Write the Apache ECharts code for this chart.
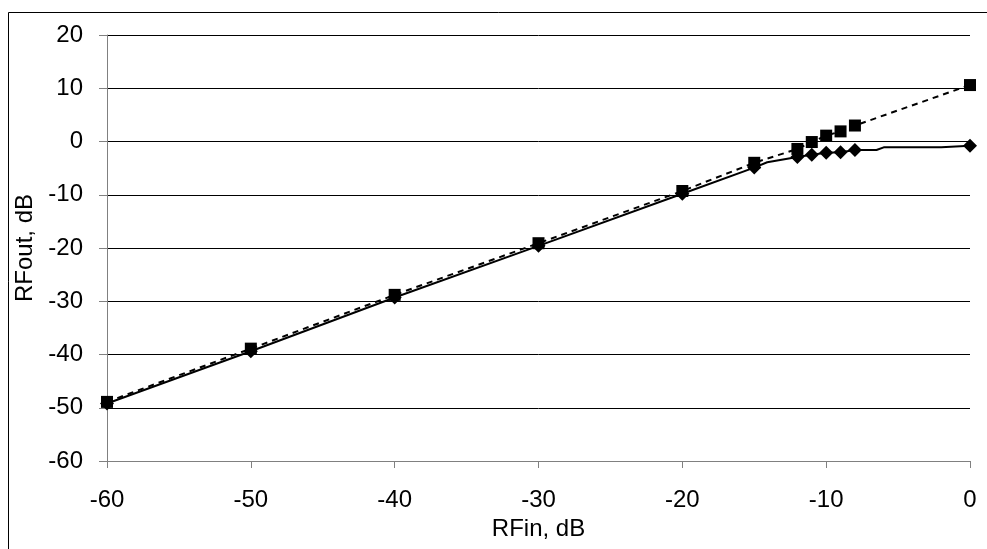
<!DOCTYPE html>
<html>
<head>
<meta charset="utf-8">
<script src="https://cdn.jsdelivr.net/npm/echarts@6/dist/echarts.min.js"></script>
<style>
  html, body { margin: 0; padding: 0; background: #fff; }
  #main { width: 987px; height: 549px; }
</style>
</head>
<body>
<div id="main"></div>
<script>
// ideal (linear) response, square markers, dashed line
var linX = [-60, -50, -40, -30, -20, -15, -12, -11, -10, -9, -8, 0];
var linY = [-48.9, -38.9, -28.8, -19.1, -9.3, -4.0, -1.4, -0.1, 1.1, 1.9, 3.0, 10.6];

// measured response, diamond markers
var measX = [-60, -50, -40, -30, -20, -15, -12, -11, -10, -9, -8, 0];
var measY = [-49.2, -39.4, -29.3, -19.6, -9.8, -4.9, -2.9, -2.5, -2.1, -2.0, -1.6, -0.8];

// measured curve, solid line (includes points without markers)
var curveX = [-60, -50, -40, -30, -20, -15, -14.1, -12, -11, -10, -9, -8, -6.5, -6, -2, 0];
var curveY = [-49.2, -39.4, -29.3, -19.6, -9.8, -4.9, -3.9, -2.9, -2.5, -2.1, -2.0, -1.6, -1.6, -1.1, -1.1, -0.8];

var xTicks = [-60, -50, -40, -30, -20, -10, 0];
var yTicks = [-60, -50, -40, -30, -20, -10, 0, 10, 20];

function pairs(xs, ys) {
    return xs.map(function (x, i) { return [x, ys[i]]; });
}

var font = 'Liberation Sans, Arial, sans-serif';
var myChart = echarts.init(document.getElementById('main'));
option = {
    animation: false,
    backgroundColor: '#fff',
    grid: { left: 107, right: 17, top: 35, bottom: 88, containLabel: false },
    graphic: [{
        type: 'rect',
        shape: { x: 8.5, y: 12.5, width: 1000, height: 600 },
        style: { fill: 'none', stroke: '#000', lineWidth: 1 },
        silent: true
    }],
    xAxis: {
        type: 'value',
        min: xTicks[0],
        max: xTicks[xTicks.length - 1],
        interval: 10,
        name: 'RFin, dB',
        nameLocation: 'middle',
        nameGap: 48,
        nameTextStyle: { fontFamily: font, fontSize: 24, color: '#000' },
        axisLine: { show: true, onZero: false, lineStyle: { color: '#808080', width: 1 } },
        axisTick: { show: true, inside: false, length: 7, lineStyle: { color: '#808080' } },
        axisLabel: { fontFamily: font, fontSize: 24, color: '#000', margin: 27 },
        splitLine: { show: false }
    },
    yAxis: {
        type: 'value',
        min: yTicks[0],
        max: yTicks[yTicks.length - 1],
        interval: 10,
        name: 'RFout, dB',
        nameLocation: 'middle',
        nameGap: 68,
        nameTextStyle: { fontFamily: font, fontSize: 24, color: '#000' },
        axisLine: { show: true, onZero: false, lineStyle: { color: '#808080', width: 1 } },
        axisTick: { show: true, inside: false, length: 8, lineStyle: { color: '#808080' } },
        axisLabel: { fontFamily: font, fontSize: 24, color: '#000', margin: 24 },
        splitLine: { show: true, lineStyle: { color: '#000', width: 1 } }
    },
    series: [{
        type: 'line',
        data: pairs(curveX, curveY),
        showSymbol: false,
        symbol: 'none',
        lineStyle: { color: '#000', width: 2 },
        z: 3
    }, {
        type: 'scatter',
        data: pairs(measX, measY),
        symbol: 'diamond',
        symbolSize: 14,
        itemStyle: { color: '#000', opacity: 1 },
        z: 4
    }, {
        type: 'line',
        data: pairs(linX, linY),
        symbol: 'rect',
        symbolSize: 12,
        showAllSymbol: true,
        itemStyle: { color: '#000', opacity: 1 },
        lineStyle: { color: '#000', width: 2, type: [6, 5] },
        z: 5
    }]
};
myChart.setOption(option);
</script>
</body>
</html>
